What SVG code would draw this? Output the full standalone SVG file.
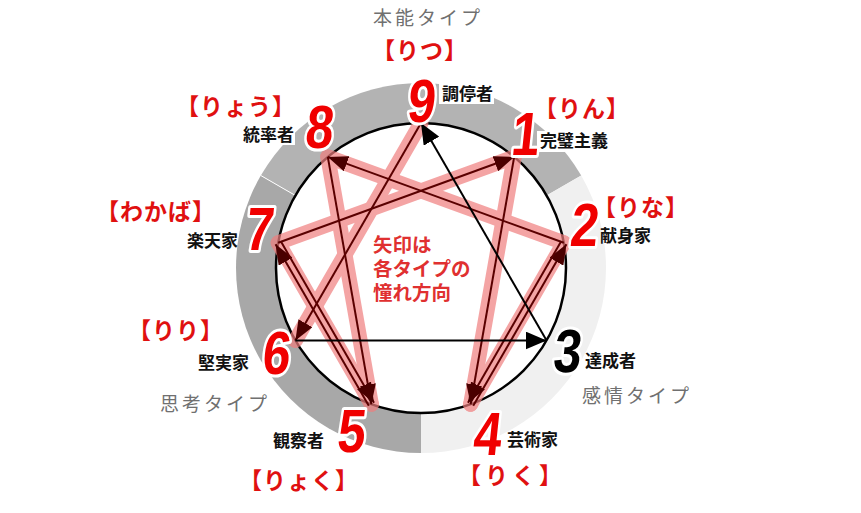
<svg xmlns="http://www.w3.org/2000/svg" width="861" height="513" viewBox="0 0 861 513">
<defs>
<style>
.num{font-family:"Liberation Sans","Arial",sans-serif;font-weight:bold;font-size:61px;text-anchor:middle;stroke:#fff;stroke-width:6px;paint-order:stroke;stroke-linejoin:round}
.r{fill:#f00000}
.k{fill:#000}
.yomi{font-family:"Noto Sans CJK JP","Noto Sans",sans-serif;font-weight:bold;font-size:23px;fill:#e01010;text-anchor:middle;letter-spacing:1px}
.role{font-family:"Noto Sans CJK JP","Noto Sans",sans-serif;font-weight:bold;font-size:17px;fill:#111}
.cat{font-family:"Noto Sans CJK JP","Noto Sans",sans-serif;font-size:19px;fill:#707070;letter-spacing:3px}
.note{font-family:"Noto Sans CJK JP","Noto Sans",sans-serif;font-weight:bold;font-size:19.5px;fill:#e03030}
.pink{stroke:#f07e7e;stroke-width:15;stroke-linecap:round;fill:none}
.thin{stroke:#5a0000;stroke-width:2;fill:none;marker-end:url(#ahr)}
.blk{stroke:#000;stroke-width:2;fill:none;marker-end:url(#ahk)}
.wbox{fill:#fff}
</style>
<marker id="ahr" markerUnits="userSpaceOnUse" markerWidth="20" markerHeight="16" refX="20" refY="8" orient="auto"><path d="M0,0 L20,8 L0,16 Z" fill="#4a0000"/></marker>
<marker id="ahk" markerUnits="userSpaceOnUse" markerWidth="21" markerHeight="18" refX="21" refY="9" orient="auto"><path d="M0,0 L21,9 L0,18 Z" fill="#000"/></marker>
</defs>
<rect width="861" height="513" fill="#fff"/>
<g id="ring">
<path d="M421,268 L260.8,175.5 A185,185 0 0 1 581.2,175.5 Z" fill="#b3b3b3"/>
<path d="M421,268 L581.2,175.5 A185,185 0 0 1 421,453 Z" fill="#f0f0f0"/>
<path d="M421,268 L421,453 A185,185 0 0 1 260.8,175.5 Z" fill="#a8a8a8"/>
<line x1="295.4" y1="195.5" x2="260.8" y2="175.5" stroke="#fff" stroke-width="1"/>
<circle cx="421" cy="268" r="145" fill="#fff" stroke="#000" stroke-width="2.5"/>
</g>
<g id="categories">
<text class="cat" x="373" y="25">本能タイプ</text>
<text class="cat" x="160" y="411">思考タイプ</text>
<text class="cat" x="582" y="403">感情タイプ</text>
</g>
<g id="connectors">
<g opacity="0.7">
<line class="pink" x1="514.2" y1="156.9" x2="470.6" y2="404.3"/>
<line class="pink" x1="470.6" y1="404.3" x2="563.8" y2="242.8"/>
<line class="pink" x1="563.8" y1="242.8" x2="327.8" y2="156.9"/>
<line class="pink" x1="327.8" y1="156.9" x2="371.4" y2="404.3"/>
<line class="pink" x1="371.4" y1="404.3" x2="278.2" y2="242.8"/>
<line class="pink" x1="278.2" y1="242.8" x2="514.2" y2="156.9"/>
<line class="pink" x1="421" y1="123" x2="295.4" y2="340.5"/>
</g>
<line class="thin" x1="278.2" y1="242.8" x2="514.2" y2="156.9"/>
<line class="thin" x1="563.8" y1="242.8" x2="327.8" y2="156.9"/>
<line class="thin" x1="514.2" y1="156.9" x2="470.6" y2="404.3"/>
<line class="thin" x1="327.8" y1="156.9" x2="371.4" y2="404.3"/>
<line class="thin" x1="368.8" y1="405.8" x2="275.6" y2="244.3"/>
<line class="thin" x1="280.8" y1="241.3" x2="374.0" y2="402.8"/>
<line class="thin" x1="473.2" y1="405.8" x2="566.4" y2="244.3"/>
<line class="thin" x1="561.2" y1="241.3" x2="468.0" y2="402.8"/>
<line class="thin" x1="421" y1="123" x2="295.4" y2="340.5"/>
<line class="blk" x1="295.4" y1="340.5" x2="546.6" y2="340.5"/>
<line class="blk" x1="546.6" y1="340.5" x2="421" y2="123"/>
</g>
<g id="note">
<text class="note" x="373" y="252">矢印は<tspan x="373" y="276">各タイプの</tspan><tspan x="373" y="300">憧れ方向</tspan></text>
</g>
<g id="node9">
<rect class="wbox" x="439" y="83" width="55" height="21"/>
<text class="role" x="442" y="100">調停者</text>
<text class="yomi" x="420" y="59">【りつ】</text>
<text class="num r" transform="translate(420,122) skewX(-6) scale(0.82,1)">9</text>
</g>
<g id="node1">
<rect class="wbox" x="537" y="131" width="75" height="21"/>
<text class="role" x="540" y="147">完璧主義</text>
<text class="yomi" x="582" y="117">【りん】</text>
<text class="num r" transform="translate(524,155) skewX(-6) scale(0.82,1)">1</text>
</g>
<g id="node2">
<text class="role" x="600" y="242">献身家</text>
<text class="yomi" x="641" y="216">【りな】</text>
<text class="num r" transform="translate(583,246) skewX(-6) scale(0.82,1)">2</text>
</g>
<g id="node3">
<text class="role" x="585" y="367">達成者</text>
<text class="num k" transform="translate(566,372) skewX(-6) scale(0.82,1)">3</text>
</g>
<g id="node4">
<text class="role" x="507" y="446">芸術家</text>
<text class="yomi" x="512" y="484" style="letter-spacing:4px">【りく】</text>
<text class="num r" transform="translate(486,455) skewX(-6) scale(0.82,1)">4</text>
</g>
<g id="node5">
<text class="role" x="273" y="447">観察者</text>
<text class="yomi" x="299" y="489">【りょく】</text>
<text class="num r" transform="translate(350,452) skewX(-6) scale(0.82,1)">5</text>
</g>
<g id="node6">
<text class="role" x="198" y="369">堅実家</text>
<text class="yomi" x="176" y="339">【りり】</text>
<text class="num r" transform="translate(275,374) skewX(-6) scale(0.82,1)">6</text>
</g>
<g id="node7">
<text class="role" x="187" y="247">楽天家</text>
<text class="yomi" x="156" y="220">【わかば】</text>
<text class="num r" transform="translate(258,250) skewX(-6) scale(0.82,1)">7</text>
</g>
<g id="node8">
<rect class="wbox" x="240" y="124" width="55" height="21"/>
<text class="role" x="243" y="141">統率者</text>
<text class="yomi" x="236" y="115">【りょう】</text>
<text class="num r" transform="translate(318,148) skewX(-6) scale(0.82,1)">8</text>
</g>
</svg>
